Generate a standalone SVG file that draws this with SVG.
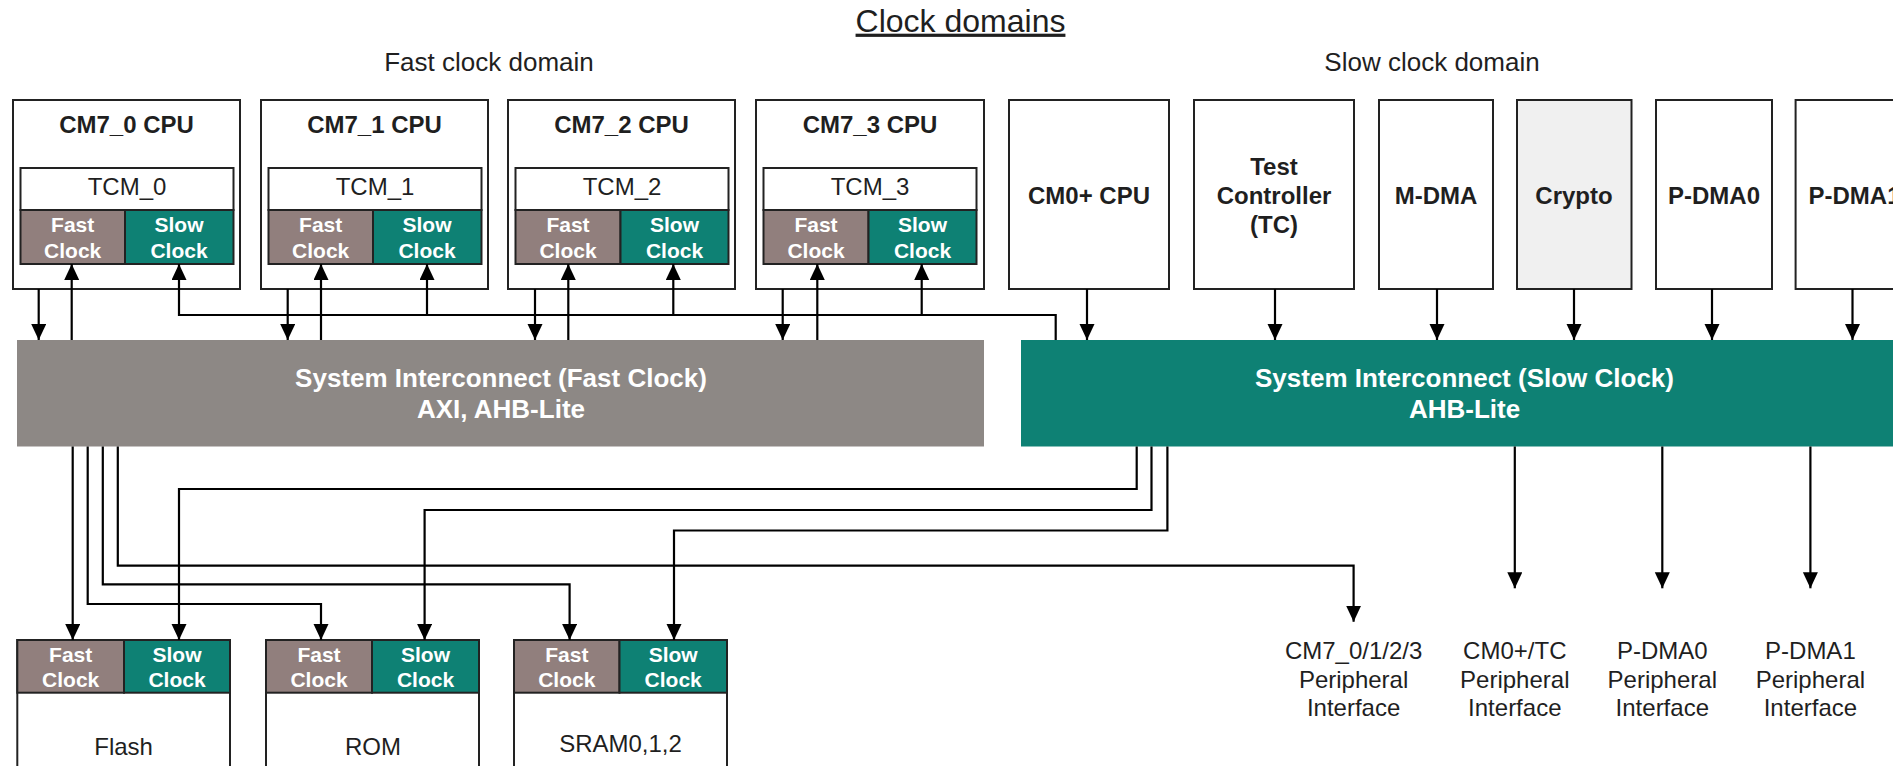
<svg xmlns="http://www.w3.org/2000/svg" width="1893" height="766" viewBox="0 0 1893 766">
<style>
text{font-family:"Liberation Sans",Arial,sans-serif;fill:#1f1f1f}
.t{font-size:24px;text-anchor:middle}
.b{font-weight:bold}
.h{font-size:26px;text-anchor:middle}
.ck{font-size:21px;font-weight:bold;fill:#fff;text-anchor:middle}
.ic{font-size:26px;font-weight:bold;fill:#fff;text-anchor:middle}
.box{fill:#fff;stroke:#222;stroke-width:2}
.fast{fill:#917f7d;stroke:#222;stroke-width:2}
.slow{fill:#0e8174;stroke:#222;stroke-width:2}
.con{fill:none;stroke:#000;stroke-width:2.2}
</style>
<defs>
<marker id="ah" markerUnits="userSpaceOnUse" markerWidth="16" markerHeight="16" refX="16" refY="7.5" orient="auto">
<path d="M0,0 L16,7.5 L0,15 z" fill="#000"/>
</marker>
</defs>

<g id="titles">
<text x="960.5" y="31.7" style="font-size:32px;text-anchor:middle" text-decoration="underline">Clock domains</text>
<text class="h" x="489" y="71">Fast clock domain</text>
<text class="h" x="1432" y="71">Slow clock domain</text>
</g>

<g id="cm7_0">
<rect class="box" x="13" y="100" width="227" height="189"/>
<text class="t b" x="126.5" y="133.3">CM7_0 CPU</text>
<rect class="box" x="20.5" y="168" width="213" height="42"/>
<text class="t" x="127" y="195">TCM_0</text>
<rect class="fast" x="20.5" y="210" width="104.5" height="54"/>
<rect class="slow" x="125" y="210" width="108.5" height="54"/>
<text class="ck" x="72.7" y="231.7">Fast</text><text class="ck" x="72.7" y="257.5">Clock</text>
<text class="ck" x="179" y="231.7">Slow</text><text class="ck" x="179" y="257.5">Clock</text>
</g>
<g id="cm7_1">
<rect class="box" x="261" y="100" width="227" height="189"/>
<text class="t b" x="374.5" y="133.3">CM7_1 CPU</text>
<rect class="box" x="268.5" y="168" width="213" height="42"/>
<text class="t" x="375" y="195">TCM_1</text>
<rect class="fast" x="268.5" y="210" width="104.5" height="54"/>
<rect class="slow" x="373" y="210" width="108.5" height="54"/>
<text class="ck" x="320.7" y="231.7">Fast</text><text class="ck" x="320.7" y="257.5">Clock</text>
<text class="ck" x="427" y="231.7">Slow</text><text class="ck" x="427" y="257.5">Clock</text>
</g>
<g id="cm7_2">
<rect class="box" x="508" y="100" width="227" height="189"/>
<text class="t b" x="621.5" y="133.3">CM7_2 CPU</text>
<rect class="box" x="515.5" y="168" width="213" height="42"/>
<text class="t" x="622" y="195">TCM_2</text>
<rect class="fast" x="515.5" y="210" width="105" height="54"/>
<rect class="slow" x="620.5" y="210" width="108" height="54"/>
<text class="ck" x="568" y="231.7">Fast</text><text class="ck" x="568" y="257.5">Clock</text>
<text class="ck" x="674.5" y="231.7">Slow</text><text class="ck" x="674.5" y="257.5">Clock</text>
</g>
<g id="cm7_3">
<rect class="box" x="756" y="100" width="228" height="189"/>
<text class="t b" x="870" y="133.3">CM7_3 CPU</text>
<rect class="box" x="763.5" y="168" width="213" height="42"/>
<text class="t" x="870" y="195">TCM_3</text>
<rect class="fast" x="763.5" y="210" width="105" height="54"/>
<rect class="slow" x="868.5" y="210" width="108" height="54"/>
<text class="ck" x="816" y="231.7">Fast</text><text class="ck" x="816" y="257.5">Clock</text>
<text class="ck" x="922.5" y="231.7">Slow</text><text class="ck" x="922.5" y="257.5">Clock</text>
</g>

<g id="cm0">
<rect class="box" x="1009" y="100" width="160" height="189"/>
<text class="t b" x="1089" y="204">CM0+ CPU</text>
</g>
<g id="tc">
<rect class="box" x="1194" y="100" width="160" height="189"/>
<text class="t b" x="1274" y="175">Test</text>
<text class="t b" x="1274" y="204">Controller</text>
<text class="t b" x="1274" y="233">(TC)</text>
</g>
<g id="mdma">
<rect class="box" x="1379" y="100" width="114" height="189"/>
<text class="t b" x="1436" y="204">M-DMA</text>
</g>
<g id="crypto">
<rect class="box" x="1517" y="100" width="114.5" height="189" style="fill:#f0f0f0"/>
<text class="t b" x="1574" y="204">Crypto</text>
</g>
<g id="pdma0">
<rect class="box" x="1656" y="100" width="116" height="189"/>
<text class="t b" x="1714" y="204">P-DMA0</text>
</g>
<g id="pdma1">
<rect class="box" x="1795.6" y="100" width="116" height="189"/>
<text class="t b" x="1854.5" y="204">P-DMA1</text>
</g>

<g id="fast_interconnect">
<rect x="17" y="340" width="967" height="106.5" fill="#8d8885"/>
<text class="ic" x="501" y="387">System Interconnect (Fast Clock)</text>
<text class="ic" x="501" y="418">AXI, AHB-Lite</text>
</g>
<g id="slow_interconnect">
<rect x="1021" y="340" width="900" height="106.5" fill="#0e8174"/>
<text class="ic" x="1464.5" y="387">System Interconnect (Slow Clock)</text>
<text class="ic" x="1464.5" y="418">AHB-Lite</text>
</g>

<g id="flash">
<rect class="box" x="17.3" y="640" width="212.7" height="170"/>
<rect class="fast" x="17.3" y="640" width="106.7" height="52.7"/>
<rect class="slow" x="124" y="640" width="106" height="52.7"/>
<text class="ck" x="70.7" y="661.5">Fast</text><text class="ck" x="70.7" y="686.5">Clock</text>
<text class="ck" x="177" y="661.5">Slow</text><text class="ck" x="177" y="686.5">Clock</text>
<text class="t" x="123.6" y="755">Flash</text>
</g>
<g id="rom">
<rect class="box" x="266" y="640" width="213" height="170"/>
<rect class="fast" x="266" y="640" width="106" height="52.7"/>
<rect class="slow" x="372" y="640" width="107" height="52.7"/>
<text class="ck" x="319" y="661.5">Fast</text><text class="ck" x="319" y="686.5">Clock</text>
<text class="ck" x="425.5" y="661.5">Slow</text><text class="ck" x="425.5" y="686.5">Clock</text>
<text class="t" x="373" y="755">ROM</text>
</g>
<g id="sram">
<rect class="box" x="514" y="640" width="213" height="170"/>
<rect class="fast" x="514" y="640" width="105.5" height="52.7"/>
<rect class="slow" x="619.5" y="640" width="107.5" height="52.7"/>
<text class="ck" x="566.8" y="661.5">Fast</text><text class="ck" x="566.8" y="686.5">Clock</text>
<text class="ck" x="673.2" y="661.5">Slow</text><text class="ck" x="673.2" y="686.5">Clock</text>
<text class="t" x="620.5" y="752">SRAM0,1,2</text>
</g>

<g id="periph_cm7">
<text class="t" x="1353.6" y="659">CM7_0/1/2/3</text>
<text class="t" x="1353.6" y="688">Peripheral</text>
<text class="t" x="1353.6" y="716">Interface</text>
</g>
<g id="periph_cm0tc">
<text class="t" x="1514.8" y="659">CM0+/TC</text>
<text class="t" x="1514.8" y="688">Peripheral</text>
<text class="t" x="1514.8" y="716">Interface</text>
</g>
<g id="periph_pdma0">
<text class="t" x="1662.3" y="659">P-DMA0</text>
<text class="t" x="1662.3" y="688">Peripheral</text>
<text class="t" x="1662.3" y="716">Interface</text>
</g>
<g id="periph_pdma1">
<text class="t" x="1810.4" y="659">P-DMA1</text>
<text class="t" x="1810.4" y="688">Peripheral</text>
<text class="t" x="1810.4" y="716">Interface</text>
</g>

<g id="connectors" class="con">
<path class="con" d="M38.7,289 V340" marker-end="url(#ah)"/>
<path class="con" d="M71.7,340 V264" marker-end="url(#ah)"/>
<path class="con" d="M287.7,289 V340" marker-end="url(#ah)"/>
<path class="con" d="M321,340 V264" marker-end="url(#ah)"/>
<path class="con" d="M535,289 V340" marker-end="url(#ah)"/>
<path class="con" d="M568.3,340 V264" marker-end="url(#ah)"/>
<path class="con" d="M782.7,289 V340" marker-end="url(#ah)"/>
<path class="con" d="M817.3,340 V264" marker-end="url(#ah)"/>
<path class="con" d="M1055.7,340 V315 H179 V264" marker-end="url(#ah)"/>
<path class="con" d="M427,315 V264" marker-end="url(#ah)"/>
<path class="con" d="M673.3,315 V264" marker-end="url(#ah)"/>
<path class="con" d="M921.7,315 V264" marker-end="url(#ah)"/>
<path class="con" d="M1087,289 V340" marker-end="url(#ah)"/>
<path class="con" d="M1275,289 V340" marker-end="url(#ah)"/>
<path class="con" d="M1437,289 V340" marker-end="url(#ah)"/>
<path class="con" d="M1574,289 V340" marker-end="url(#ah)"/>
<path class="con" d="M1712,289 V340" marker-end="url(#ah)"/>
<path class="con" d="M1852.5,289 V340" marker-end="url(#ah)"/>
<path class="con" d="M72.7,446.5 V640" marker-end="url(#ah)"/>
<path class="con" d="M87.7,446.5 V604 H321 V640" marker-end="url(#ah)"/>
<path class="con" d="M102.8,446.5 V584.3 H569.6 V640" marker-end="url(#ah)"/>
<path class="con" d="M117.8,446.5 V565.7 H1353.6 V621.7" marker-end="url(#ah)"/>
<path class="con" d="M1136.7,446.5 V489 H179 V640" marker-end="url(#ah)"/>
<path class="con" d="M1151.5,446.5 V510 H424.6 V640" marker-end="url(#ah)"/>
<path class="con" d="M1167.4,446.5 V530.5 H674 V640" marker-end="url(#ah)"/>
<path class="con" d="M1514.8,446.5 V588.3" marker-end="url(#ah)"/>
<path class="con" d="M1662.3,446.5 V588.3" marker-end="url(#ah)"/>
<path class="con" d="M1810.4,446.5 V588.3" marker-end="url(#ah)"/>
</g>
</svg>
